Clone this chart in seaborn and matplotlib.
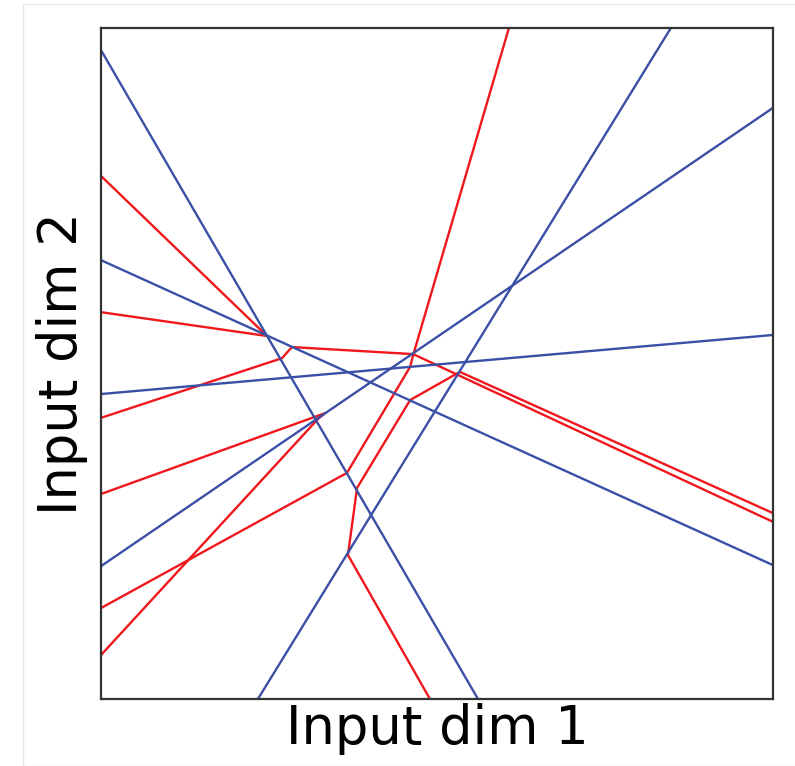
import matplotlib
matplotlib.use('Agg')
import matplotlib.pyplot as plt
import numpy as np
import pandas as pd
import seaborn as sns
from matplotlib.patches import Rectangle

# first layer boundaries: straight lines (x pairs, y pairs)
blue_x = [[-1.0, 0.122], [-1.0, 1.0], [-1.0, 1.0], [-1.0, 1.0], [-0.533, 0.696]]
blue_y = [[0.934, -1.0], [0.308, -0.601], [-0.091, 0.085], [-0.604, 0.762], [-1.0, 1.0]]

# second layer boundaries: bent lines
red_x = [
    [-1.0, -0.506, -1.0],
    [-1.0, -0.333, -0.354, -1.0],
    [-1.0, -0.461, -0.432, -0.071, 1.0],
    [-1.0, -0.268, -0.080, -0.071, 0.214],
    [-0.021, -0.265, -0.238, -0.080, 0.068, 1.0],
]
red_y = [
    [0.559, 0.082, 0.153],
    [-0.389, -0.148, -0.165, -0.869],
    [-0.162, 0.016, 0.049, 0.028, -0.472],
    [-0.729, -0.326, -0.010, 0.025, 1.0],
    [-1.0, -0.571, -0.371, -0.109, -0.025, -0.446],
]

rows = []
for i, (xs, ys) in enumerate(zip(red_x, red_y)):
    for j, (x, y) in enumerate(zip(xs, ys)):
        rows.append({'seg': 'r%d' % i, 'kind': 'red', 'order': j, 'x': x, 'y': y})
for i, (xs, ys) in enumerate(zip(blue_x, blue_y)):
    for j, (x, y) in enumerate(zip(xs, ys)):
        rows.append({'seg': 'b%d' % i, 'kind': 'blue', 'order': j, 'x': x, 'y': y})
df = pd.DataFrame(rows)

sns.set_style('white')
fig = plt.figure(figsize=(7.95, 7.66), dpi=100)
ax = fig.add_axes([101 / 795, 67 / 766, 672 / 795, 671 / 766])

sns.lineplot(data=df, x='x', y='y', units='seg', hue='kind', estimator=None, sort=False,
             hue_order=['red', 'blue'], palette={'red': '#f0171c', 'blue': '#3a4fa6'},
             linewidth=1.7, legend=False, ax=ax)

ax.set_xlim(-1, 1)
ax.set_ylim(-1, 1)
ax.set_xticks([])
ax.set_yticks([])
ax.set_xlabel('Input dim 1', fontsize=38, labelpad=3, color='black')
ax.set_ylabel('Input dim 2', fontsize=38, labelpad=9, color='black')
for s in ax.spines.values():
    s.set_color('#333333')
    s.set_linewidth(1.6)

# faint notebook output frame
fig.patches.append(Rectangle((23 / 795, 0), 1, 1 - 4 / 766, transform=fig.transFigure,
                             fill=False, edgecolor='#e6e6e6', linewidth=1))

plt.savefig('out.png', dpi=100)
